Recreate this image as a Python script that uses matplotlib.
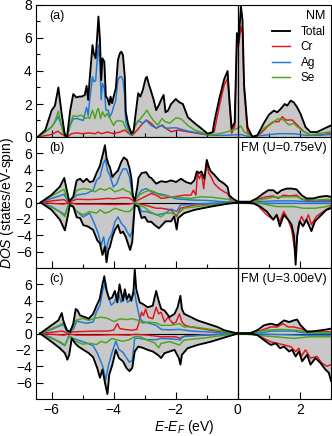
import numpy as np
import matplotlib
matplotlib.use("Agg")
import matplotlib.pyplot as plt
from matplotlib.ticker import MultipleLocator, FixedLocator

plt.rcParams['font.family'] = ['Liberation Sans', 'DejaVu Sans']
plt.rcParams['mathtext.fontset'] = 'custom'
plt.rcParams['mathtext.rm'] = 'Liberation Sans'
plt.rcParams['mathtext.it'] = 'Liberation Sans:italic'

# ---------------- data (E in eV, DOS in states/eV-spin) ----------------
# Panel (a): NM
a_total = [(-6.45,0),(-6.2,0.42),(-6.0,1.6),(-5.89,1.9),(-5.78,3.0),(-5.68,1.5),(-5.57,0.1),(-5.5,0.0),(-5.4,1.6),(-5.3,2.6),(-5.2,2.4),(-5.1,2.45),(-5.03,2.45),(-4.93,2.54),(-4.87,3.1),(-4.82,2.25),(-4.77,3.55),(-4.68,5.57),(-4.64,5.07),(-4.58,4.77),(-4.53,6.08),(-4.49,7.3),(-4.44,5.88),(-4.4,3.45),(-4.36,4.77),(-4.3,4.57),(-4.25,2.45),(-4.2,2.35),(-4.14,1.95),(-4.1,2.45),(-4.05,2.05),(-4.0,2.45),(-3.93,2.95),(-3.86,4.67),(-3.8,5.07),(-3.75,5.17),(-3.7,4.97),(-3.64,3.65),(-3.61,1.53),(-3.54,0.83),(-3.43,0.22),(-3.36,0.32),(-3.29,1.43),(-3.21,2.65),(-3.14,2.45),(-3.06,2.85),(-2.97,3.55),(-2.93,3.65),(-2.86,3.15),(-2.79,2.75),(-2.71,2.25),(-2.63,1.63),(-2.54,1.95),(-2.47,2.25),(-2.39,2.55),(-2.33,1.5),(-2.25,1.6),(-2.15,2.0),(-2.0,2.3),(-1.88,2.1),(-1.77,2.0),(-1.61,1.2),(-1.4,0.85),(-1.19,0.54),(-0.97,0.2),(-0.81,0.3),(-0.76,0.9),(-0.6,2.3),(-0.44,3.5),(-0.33,4.0),(-0.28,2.5),(-0.2,0.5),(-0.1,0.9),(-0.03,6.3),(0.02,5.7),(0.1,7.9),(0.15,7.1),(0.2,3.2),(0.31,0.6),(0.47,0.0),(0.63,0.1),(0.84,0.85),(1.0,1.35),(1.16,1.6),(1.27,1.5),(1.38,1.7),(1.51,2.0),(1.59,1.9),(1.7,2.2),(1.8,2.1),(1.91,1.8),(2.02,1.4),(2.18,0.6),(2.34,0.3),(2.55,0.3),(2.77,0.5),(3.0,0.7)]
a_cr = [(-6.45,0),(-6.0,0.15),(-5.8,0.35),(-5.65,0.15),(-5.5,0),(-5.35,0.2),(-5.2,0.25),(-5.0,0.2),(-4.8,0.25),(-4.6,0.2),(-4.5,0.3),(-4.4,0.2),(-4.2,0.3),(-4.0,0.2),(-3.8,0.3),(-3.65,0.42),(-3.5,0.2),(-3.4,0.1),(-3.25,0.4),(-3.06,0.83),(-2.95,1.03),(-2.79,0.83),(-2.63,0.53),(-2.44,0.73),(-2.33,0.55),(-2.15,0.32),(-1.93,0.42),(-1.61,0.32),(-1.29,0.22),(-0.97,0.12),(-0.76,0.32),(-0.6,1.83),(-0.44,3.15),(-0.33,3.55),(-0.28,2.25),(-0.2,0.22),(-0.1,0.63),(-0.03,5.98),(0.02,5.47),(0.1,6.69),(0.15,6.28),(0.2,2.85),(0.31,0.32),(0.47,0.0),(0.74,0.22),(0.95,0.63),(1.16,0.93),(1.32,0.93),(1.43,1.23),(1.54,1.03),(1.75,1.03),(1.91,0.73),(2.13,0.32),(2.34,0.12),(2.66,0.12),(3.0,0.22)]
a_ag = [(-6.45,0),(-6.2,0.3),(-6.0,0.6),(-5.78,1.23),(-5.65,0.5),(-5.5,0),(-5.4,0.7),(-5.3,1.1),(-5.19,1.12),(-4.98,1.0),(-4.87,1.8),(-4.82,1.3),(-4.77,2.25),(-4.68,3.65),(-4.64,3.35),(-4.58,3.4),(-4.53,4.67),(-4.49,5.57),(-4.44,4.27),(-4.4,2.25),(-4.36,3.25),(-4.3,2.95),(-4.25,1.63),(-4.18,1.63),(-4.12,1.23),(-4.05,1.5),(-4.0,1.83),(-3.93,2.25),(-3.86,3.45),(-3.8,3.65),(-3.75,3.65),(-3.7,3.45),(-3.64,2.45),(-3.61,0.93),(-3.54,0.53),(-3.43,0.1),(-3.32,0.63),(-3.21,1.0),(-3.06,0.83),(-2.95,1.0),(-2.79,0.7),(-2.63,0.53),(-2.47,0.7),(-2.33,0.53),(-1.99,0.56),(-1.61,0.36),(-1.19,0.22),(-0.9,0.1),(-0.5,0.1),(-0.2,0.12),(0.1,0.15),(0.3,0.05),(0.6,0.05),(0.9,0.12),(1.3,0.2),(1.8,0.2),(2.2,0.1),(2.6,0.12),(3.0,0.15)]
a_se = [(-6.45,0),(-6.2,0.3),(-6.0,0.6),(-5.9,0.9),(-5.78,1.57),(-5.62,0.2),(-5.5,0),(-5.4,0.8),(-5.3,1.3),(-5.19,1.23),(-5.03,1.33),(-4.93,1.12),(-4.82,1.2),(-4.77,1.12),(-4.68,1.63),(-4.6,1.12),(-4.53,1.63),(-4.49,1.73),(-4.42,1.12),(-4.36,1.53),(-4.28,1.23),(-4.21,1.43),(-4.12,1.12),(-4.0,0.7),(-3.93,0.93),(-3.82,1.0),(-3.7,0.93),(-3.61,0.53),(-3.48,0.22),(-3.38,0.32),(-3.27,0.83),(-3.17,1.03),(-3.0,1.43),(-2.93,1.63),(-2.84,1.33),(-2.73,1.03),(-2.58,0.73),(-2.44,1.12),(-2.36,0.95),(-2.2,0.83),(-1.99,1.16),(-1.83,1.1),(-1.61,0.7),(-1.4,0.43),(-1.08,0.22),(-0.87,0.12),(-0.55,0.22),(-0.33,0.32),(-0.01,0.53),(0.1,0.66),(0.2,0.32),(0.41,0.05),(0.63,0.1),(0.84,0.53),(1.05,0.83),(1.32,1.12),(1.48,1.03),(1.64,0.73),(1.8,0.83),(1.91,0.63),(2.13,0.32),(2.34,0.12),(2.66,0.22),(3.0,0.32)]

# Panel (b): FM U=0.75 eV, spin up (+) and spin down (-)
b_total_up = [(-6.35,0),(-6.0,0.93),(-5.73,1.94),(-5.59,3.0),(-5.51,1.54),(-5.43,0.12),(-5.3,0.73),(-5.19,2.7),(-5.08,2.9),(-4.98,2.5),(-4.87,2.9),(-4.77,2.5),(-4.66,2.6),(-4.55,3.6),(-4.44,4.5),(-4.34,6.0),(-4.28,7.0),(-4.23,5.5),(-4.17,4.7),(-4.12,4.3),(-4.04,3.1),(-3.96,3.5),(-3.86,3.9),(-3.75,5.0),(-3.67,5.5),(-3.57,5.2),(-3.49,4.2),(-3.43,3.0),(-3.38,0.8),(-3.32,0.2),(-3.24,1.8),(-3.2,3.0),(-3.1,3.6),(-2.95,3.7),(-2.85,3.1),(-2.79,3.0),(-2.63,2.3),(-2.47,2.6),(-2.31,2.5),(-2.15,2.7),(-1.99,2.5),(-1.83,2.9),(-1.67,2.5),(-1.51,2.3),(-1.4,2.7),(-1.32,3.8),(-1.25,3.6),(-1.17,3.8),(-1.08,2.9),(-1.0,5.2),(-0.94,4.4),(-0.87,3.8),(-0.76,3.4),(-0.6,2.7),(-0.44,2.3),(-0.33,1.9),(-0.28,0.9),(-0.17,0.5),(0.0,0.1),(0.4,0.1),(0.61,0.5),(0.82,1.1),(0.98,1.5),(1.14,1.5),(1.27,1.1),(1.41,1.5),(1.57,1.7),(1.73,1.7),(1.89,1.6),(2.05,0.9),(2.21,0.5),(2.43,0.5),(2.64,0.7),(2.85,0.8),(3.0,0.7)]
b_cr_up = [(-6.35,0),(-6.0,0.2),(-5.6,0.35),(-5.45,0.0),(-5.2,0.4),(-4.8,0.35),(-4.5,0.4),(-4.2,0.5),(-4.0,0.45),(-3.7,0.6),(-3.5,0.55),(-3.32,0.1),(-3.1,0.5),(-2.95,0.8),(-2.79,1.1),(-2.63,0.9),(-2.47,0.5),(-2.05,0.7),(-1.73,0.9),(-1.51,0.9),(-1.43,1.5),(-1.35,0.9),(-1.3,3.6),(-1.24,2.9),(-1.17,3.6),(-1.1,1.7),(-1.0,5.0),(-0.94,3.6),(-0.87,3.2),(-0.76,2.3),(-0.6,1.7),(-0.44,1.3),(-0.33,1.1),(-0.22,0.3),(0.0,0.05),(0.5,0.1),(0.72,0.5),(0.93,0.7),(1.14,0.8),(1.3,0.5),(1.46,0.9),(1.67,0.8),(1.89,0.9),(2.05,0.4),(2.3,0.2),(3.0,0.2)]
b_ag_up = [(-6.35,0),(-6.0,0.5),(-5.75,0.8),(-5.6,1.0),(-5.45,0.05),(-5.3,0.5),(-5.19,0.9),(-4.87,1.1),(-4.66,1.5),(-4.55,2.7),(-4.44,3.1),(-4.34,4.7),(-4.26,5.3),(-4.2,3.9),(-4.12,3.3),(-4.01,1.9),(-3.9,2.3),(-3.8,3.3),(-3.7,4.1),(-3.59,4.1),(-3.49,3.1),(-3.38,0.7),(-3.32,0.15),(-3.21,0.9),(-3.1,1.5),(-2.95,1.7),(-2.79,1.3),(-2.58,1.1),(-2.33,0.9),(-2.0,0.45),(-1.5,0.3),(-1.0,0.25),(-0.5,0.1),(0.0,0.05),(0.7,0.1),(1.2,0.2),(1.8,0.2),(2.3,0.1),(3.0,0.1)]
b_se_up = [(-6.35,0),(-6.0,0.8),(-5.75,1.3),(-5.6,1.6),(-5.45,0.1),(-5.3,0.6),(-5.19,1.5),(-4.98,1.7),(-4.77,1.6),(-4.6,1.3),(-4.44,1.7),(-4.28,1.5),(-4.12,1.8),(-3.96,1.3),(-3.8,1.5),(-3.7,1.7),(-3.59,1.4),(-3.49,1.3),(-3.38,0.7),(-3.3,0.2),(-3.18,0.9),(-3.0,1.3),(-2.84,1.5),(-2.68,1.3),(-2.52,0.9),(-2.33,0.8),(-2.05,0.65),(-1.51,0.5),(-1.2,0.7),(-0.87,0.65),(-0.33,0.4),(0.0,0.05),(0.5,0.1),(0.82,0.4),(1.14,0.65),(1.57,0.7),(1.89,0.7),(2.1,0.4),(2.5,0.3),(3.0,0.4)]
b_total_dn = [(-6.35,0),(-6.0,-0.9),(-5.73,-2.1),(-5.57,-3.4),(-5.5,-2.1),(-5.41,-0.3),(-5.3,-0.5),(-5.19,-1.8),(-5.08,-1.9),(-4.98,-2.75),(-4.82,-2.95),(-4.66,-3.35),(-4.53,-4.6),(-4.44,-5.0),(-4.36,-6.4),(-4.28,-5.4),(-4.23,-7.3),(-4.17,-5.8),(-4.12,-5.4),(-4.04,-4.2),(-3.96,-3.35),(-3.86,-2.75),(-3.78,-3.75),(-3.7,-3.55),(-3.61,-4.2),(-3.54,-5.0),(-3.47,-5.8),(-3.4,-4.8),(-3.32,-0.3),(-3.21,-0.5),(-3.1,-1.9),(-3.0,-1.75),(-2.9,-2.35),(-2.79,-2.35),(-2.68,-2.75),(-2.54,-3.15),(-2.44,-2.75),(-2.33,-2.3),(-2.15,-2.3),(-2.05,-1.7),(-1.97,-3.3),(-1.92,-1.9),(-1.73,-1.3),(-1.4,-0.9),(-0.87,-0.5),(-0.33,-0.15),(0.0,0.0),(0.5,-0.1),(0.72,-0.5),(0.93,-1.1),(1.14,-2.1),(1.25,-1.5),(1.35,-2.9),(1.48,-1.5),(1.62,-2.1),(1.73,-2.7),(1.81,-4.1),(1.86,-7.6),(1.91,-4.1),(1.99,-2.3),(2.1,-2.9),(2.21,-2.1),(2.37,-3.5),(2.48,-2.3),(2.64,-1.7),(2.85,-0.9),(3.0,-0.7)]
b_cr_dn = [(-6.35,0),(-6.0,-0.1),(-5.6,-0.2),(-5.45,0.0),(-5.2,-0.2),(-4.5,-0.2),(-4.0,-0.25),(-3.5,-0.2),(-3.32,-0.05),(-3.0,-0.3),(-2.63,-0.7),(-2.47,-0.7),(-2.15,-0.9),(-1.97,-1.7),(-1.85,-0.7),(-1.4,-0.3),(-0.87,-0.15),(0.0,0.0),(0.6,-0.15),(0.72,-0.7),(0.93,-1.5),(1.14,-2.1),(1.25,-1.5),(1.35,-2.3),(1.48,-1.1),(1.62,-2.1),(1.73,-3.3),(1.86,-6.5),(1.94,-2.9),(2.05,-1.7),(2.16,-2.5),(2.27,-1.5),(2.37,-2.7),(2.53,-1.7),(2.75,-1.1),(3.0,-0.5)]
b_ag_dn = [(-6.35,0),(-6.0,-0.5),(-5.73,-1.1),(-5.57,-1.5),(-5.45,-0.2),(-5.3,-0.5),(-5.19,-1.1),(-4.98,-1.75),(-4.77,-1.3),(-4.6,-2.75),(-4.5,-3.75),(-4.4,-5.2),(-4.32,-4.2),(-4.25,-6.0),(-4.17,-4.6),(-4.06,-3.8),(-3.96,-2.35),(-3.86,-1.75),(-3.75,-2.55),(-3.64,-3.0),(-3.54,-3.75),(-3.47,-4.2),(-3.4,-3.4),(-3.32,-0.1),(-3.21,-0.15),(-3.1,-1.1),(-2.95,-1.1),(-2.79,-1.3),(-2.58,-1.5),(-2.33,-1.3),(-2.15,-0.8),(-1.97,-1.1),(-1.85,-0.3),(-1.2,-0.15),(0.0,0.0),(1.0,-0.1),(2.0,-0.1),(3.0,-0.1)]
b_se_dn = [(-6.35,0),(-6.0,-0.6),(-5.75,-1.1),(-5.57,-1.7),(-5.45,-0.2),(-5.3,-0.6),(-5.19,-1.1),(-4.98,-1.5),(-4.77,-1.1),(-4.55,-1.3),(-4.44,-0.9),(-4.28,-1.3),(-4.12,-1.1),(-3.96,-0.7),(-3.8,-0.9),(-3.64,-1.1),(-3.49,-1.1),(-3.38,-0.7),(-3.3,-0.05),(-3.18,-0.3),(-3.0,-0.6),(-2.84,-1.1),(-2.63,-1.5),(-2.47,-1.75),(-2.33,-1.3),(-2.15,-1.3),(-1.97,-1.5),(-1.73,-0.7),(-0.87,-0.3),(0.0,0.0),(0.72,-0.1),(1.25,-0.5),(1.8,-0.5),(2.1,-0.7),(2.5,-0.7),(2.85,-0.5),(3.0,-0.3)]

# Panel (c): FM U=3.00 eV
c_total_up = [(-6.37,0),(-6.0,1.0),(-5.78,1.6),(-5.67,2.5),(-5.62,1.6),(-5.51,0.4),(-5.4,0.2),(-5.3,1.2),(-5.22,3.0),(-5.16,2.8),(-5.08,2.2),(-4.92,2.0),(-4.8,1.8),(-4.66,2.4),(-4.55,3.4),(-4.45,4.2),(-4.36,6.0),(-4.3,7.0),(-4.24,5.4),(-4.14,4.2),(-4.05,4.4),(-3.96,5.2),(-3.88,3.8),(-3.81,6.0),(-3.7,4.0),(-3.64,5.4),(-3.57,4.2),(-3.5,4.8),(-3.43,4.0),(-3.36,5.2),(-3.32,7.8),(-3.27,5.4),(-3.16,3.8),(-3.06,3.6),(-2.9,3.2),(-2.74,3.4),(-2.63,5.2),(-2.55,4.0),(-2.47,3.0),(-2.36,2.8),(-2.2,2.0),(-2.04,2.4),(-1.94,3.2),(-1.85,4.6),(-1.8,3.0),(-1.73,2.4),(-1.51,2.0),(-1.3,1.6),(-0.98,1.2),(-0.66,0.8),(-0.44,0.4),(0.0,0.0),(0.4,0.05),(0.63,0.4),(0.84,1.0),(1.06,1.2),(1.27,1.0),(1.49,1.6),(1.65,1.4),(1.8,1.6),(1.91,1.7),(2.02,1.0),(2.23,0.2),(2.5,0.3),(2.87,0.5),(3.0,0.6)]
c_cr_up = [(-6.37,0),(-6.0,0.15),(-5.65,0.3),(-5.5,0.05),(-5.3,0.2),(-5.0,0.25),(-4.5,0.3),(-4.2,0.3),(-4.0,0.4),(-3.88,1.2),(-3.8,0.6),(-3.65,0.5),(-3.4,0.4),(-3.25,0.5),(-3.18,1.4),(-3.1,2.6),(-3.04,2.2),(-2.97,3.0),(-2.89,2.0),(-2.74,1.8),(-2.63,3.2),(-2.55,2.4),(-2.47,2.6),(-2.36,1.4),(-2.25,2.0),(-2.09,1.2),(-1.99,1.4),(-1.88,2.4),(-1.8,1.4),(-1.7,1.0),(-1.51,0.8),(-1.19,0.6),(-0.87,0.4),(-0.55,0.2),(0.0,0.0),(0.5,0.05),(0.84,0.5),(1.06,0.8),(1.27,0.8),(1.45,1.2),(1.62,0.8),(1.8,0.8),(2.02,0.6),(2.2,0.3),(2.6,0.2),(3.0,0.2)]
c_ag_up = [(-6.37,0),(-6.0,0.5),(-5.75,0.9),(-5.62,1.1),(-5.48,0.1),(-5.3,0.5),(-5.19,1.5),(-4.87,1.25),(-4.66,1.4),(-4.55,2.65),(-4.44,3.45),(-4.34,5.45),(-4.26,6.25),(-4.18,4.65),(-4.08,3.45),(-3.97,3.85),(-3.86,5.05),(-3.76,3.8),(-3.65,4.65),(-3.55,3.8),(-3.44,4.2),(-3.32,5.05),(-3.27,3.8),(-3.16,1.85),(-3.06,1.45),(-2.9,1.3),(-2.63,1.0),(-2.47,0.5),(-2.2,0.45),(-1.88,0.5),(-1.5,0.3),(-1.0,0.2),(0.0,0.0),(0.7,0.05),(1.1,0.3),(1.8,0.3),(2.1,0.1),(3.0,0.0)]
c_se_up = [(-6.37,0),(-6.0,0.6),(-5.75,1.0),(-5.62,1.3),(-5.45,0.2),(-5.3,0.8),(-5.22,1.6),(-5.0,1.85),(-4.8,1.6),(-4.6,1.85),(-4.4,2.0),(-4.2,1.85),(-3.98,1.45),(-3.8,1.8),(-3.6,1.7),(-3.4,1.8),(-3.2,1.6),(-3.06,1.25),(-2.9,1.4),(-2.63,1.3),(-2.47,1.0),(-2.15,1.0),(-1.88,1.2),(-1.73,0.8),(-1.4,0.8),(-0.87,0.5),(-0.33,0.2),(0.0,0.0),(0.5,0.1),(0.9,0.4),(1.4,0.5),(1.9,0.4),(2.3,0.1),(3.0,0.1)]
c_total_dn = [(-6.37,0),(-6.0,-1.0),(-5.73,-1.8),(-5.57,-2.4),(-5.49,-3.2),(-5.43,-2.6),(-5.35,-0.6),(-5.24,-1.2),(-5.13,-1.6),(-4.97,-2.0),(-4.8,-2.4),(-4.66,-2.9),(-4.53,-4.2),(-4.44,-5.4),(-4.36,-4.4),(-4.28,-6.0),(-4.2,-7.4),(-4.14,-5.0),(-4.04,-3.8),(-3.93,-2.0),(-3.83,-3.0),(-3.7,-3.4),(-3.59,-4.2),(-3.49,-4.6),(-3.4,-4.2),(-3.32,-2.2),(-3.21,-1.6),(-3.06,-1.75),(-2.9,-2.0),(-2.74,-2.2),(-2.58,-2.6),(-2.47,-3.0),(-2.36,-2.4),(-2.2,-2.2),(-2.04,-2.0),(-1.9,-3.0),(-1.85,-3.8),(-1.8,-2.6),(-1.62,-1.8),(-1.3,-1.4),(-0.87,-1.0),(-0.44,-0.5),(0.0,0.0),(0.45,-0.05),(0.63,-0.2),(0.84,-0.8),(1.06,-1.4),(1.22,-1.2),(1.36,-1.8),(1.49,-1.6),(1.65,-2.2),(1.75,-2.0),(1.86,-2.8),(1.97,-2.2),(2.07,-3.4),(2.23,-2.6),(2.34,-3.8),(2.5,-3.0),(2.66,-3.6),(2.82,-4.4),(2.93,-4.8),(3.0,-5.8)]
c_cr_dn = [(-6.37,0),(-6.0,-0.1),(-5.6,-0.2),(-5.45,-0.05),(-5.2,-0.2),(-4.5,-0.2),(-4.0,-0.15),(-3.5,-0.2),(-3.3,-0.1),(-2.9,-0.2),(-2.47,-0.4),(-2.0,-0.4),(-1.85,-0.6),(-1.7,-0.3),(-1.0,-0.2),(0.0,0.0),(0.63,-0.1),(0.84,-0.6),(1.06,-1.0),(1.27,-1.2),(1.49,-1.4),(1.7,-1.6),(1.86,-2.2),(1.97,-1.8),(2.04,-2.8),(2.18,-2.0),(2.34,-3.0),(2.55,-2.8),(2.7,-3.6),(2.87,-4.0),(3.0,-3.8)]
c_ag_dn = [(-6.37,0),(-6.0,-0.5),(-5.73,-1.1),(-5.57,-1.5),(-5.45,-0.3),(-5.3,-0.6),(-5.19,-0.75),(-4.87,-1.15),(-4.66,-1.5),(-4.53,-2.35),(-4.42,-3.35),(-4.34,-4.15),(-4.26,-5.75),(-4.18,-4.1),(-4.07,-2.55),(-3.93,-0.95),(-3.83,-1.95),(-3.7,-2.3),(-3.59,-2.95),(-3.49,-3.5),(-3.4,-3.3),(-3.32,-0.55),(-3.16,-0.6),(-2.95,-0.75),(-2.63,-0.75),(-2.47,-0.6),(-2.0,-0.7),(-1.85,-0.8),(-1.8,-0.4),(-1.2,-0.2),(0.0,0.0),(1.0,-0.1),(2.0,-0.2),(3.0,-0.2)]
c_se_dn = [(-6.37,0),(-6.0,-0.6),(-5.73,-1.0),(-5.57,-1.4),(-5.42,-0.3),(-5.25,-0.9),(-5.0,-1.3),(-4.77,-1.2),(-4.55,-1.35),(-4.4,-0.95),(-4.25,-1.15),(-4.05,-0.6),(-3.88,-0.8),(-3.7,-0.95),(-3.49,-0.75),(-3.32,-0.35),(-3.16,-0.35),(-2.95,-0.75),(-2.68,-1.15),(-2.55,-1.75),(-2.47,-1.2),(-2.2,-1.0),(-1.88,-1.4),(-1.73,-0.8),(-1.2,-0.6),(-0.6,-0.3),(0.0,0.0),(0.6,-0.2),(1.2,-0.4),(1.8,-0.6),(2.3,-0.4),(3.0,-0.4)]

series_labels = ['Total', 'Cr', 'Ag', 'Se']
panel_tags = ['(a)', '(b)', '(c)']
panel_titles = ['NM', 'FM (U=0.75eV)', 'FM (U=3.00eV)']
xticks = [-6, -4, -2, 0, 2]

# ---------------- style ----------------
C_TOT = 'black'
C_CR = '#e3121b'
C_AG = '#1f78d1'
C_SE = '#4aa51c'
C_FILL = '#c8c8c8'

W, H = 332, 436
fig = plt.figure(figsize=(W/100, H/100), dpi=100)
L, R = 36, 331
def add_ax(top, bot):
    return fig.add_axes([L/W, (H-bot)/H, (R-L)/W, (bot-top)/H])

ax_a = add_ax(5, 137)
ax_b = add_ax(137, 268)
ax_c = add_ax(268, 399)

def xy(p):
    a = np.array(p, dtype=float)
    return a[:, 0], a[:, 1]

def draw(ax, tot, cr, ag, se, label=False):
    e, v = xy(tot)
    ax.fill_between(e, 0, v, color=C_FILL, lw=0, zorder=1)
    lab = series_labels if label else [None]*4
    ax.plot(e, v, color=C_TOT, lw=1.35, zorder=4, label=lab[0])
    for d, c, l in ((cr, C_CR, lab[1]), (ag, C_AG, lab[2]), (se, C_SE, lab[3])):
        ee, vv = xy(d)
        ax.plot(ee, vv, color=c, lw=1.05, zorder=3, label=l)

draw(ax_a, a_total, a_cr, a_ag, a_se, label=True)
draw(ax_b, b_total_up, b_cr_up, b_ag_up, b_se_up)
draw(ax_b, b_total_dn, b_cr_dn, b_ag_dn, b_se_dn)
draw(ax_c, c_total_up, c_cr_up, c_ag_up, c_se_up)
draw(ax_c, c_total_dn, c_cr_dn, c_ag_dn, c_se_dn)

for ax in (ax_a, ax_b, ax_c):
    ax.set_xlim(-6.5, 3.0)
    ax.axvline(0, color='black', lw=0.9, zorder=5)
    ax.xaxis.set_major_locator(FixedLocator(xticks))
    ax.xaxis.set_minor_locator(MultipleLocator(1))
    ax.tick_params(which='major', direction='in', length=5, width=0.8, labelsize=10, pad=3)
    ax.tick_params(which='minor', direction='in', length=3, width=0.8)
    for s in ax.spines.values():
        s.set_linewidth(0.8)

for ax in (ax_b, ax_c):
    ax.set_ylim(-8, 8)
    ax.set_yticks([-6, -4, -2, 0, 2, 4, 6])
    ax.axhline(0, color='black', lw=0.8, zorder=2)

ax_a.set_ylim(0, 8)
ax_a.set_yticks([0, 2, 4, 6, 8])
ax_a.yaxis.set_minor_locator(MultipleLocator(1))

ax_a.tick_params(axis='x', labelbottom=False)
ax_b.tick_params(axis='x', labelbottom=False)

for ax, tag in zip((ax_a, ax_b, ax_c), panel_tags):
    ax.text(0.045, 0.965, tag, transform=ax.transAxes, ha='left', va='top', fontsize=9)
for ax, t in zip((ax_b, ax_c), panel_titles[1:]):
    ax.text(0.985, 0.965, t, transform=ax.transAxes, ha='right', va='top', fontsize=9)

leg = ax_a.legend(loc='upper right', frameon=False, fontsize=8.5, title=panel_titles[0],
                  title_fontsize=9, alignment='right', handlelength=1.5, handletextpad=0.9,
                  labelspacing=0.3, borderaxespad=0.25, borderpad=0.2)

fig.text(7.5/W, 1 - 203/H, r'$DOS$ (states/eV-spin)', rotation=90, ha='center', va='center', fontsize=10)
fig.text(184/W, 1 - 427/H, r'$E$-$E_F$ (eV)', ha='center', va='center', fontsize=10)

fig.savefig('out.png', dpi=100)
